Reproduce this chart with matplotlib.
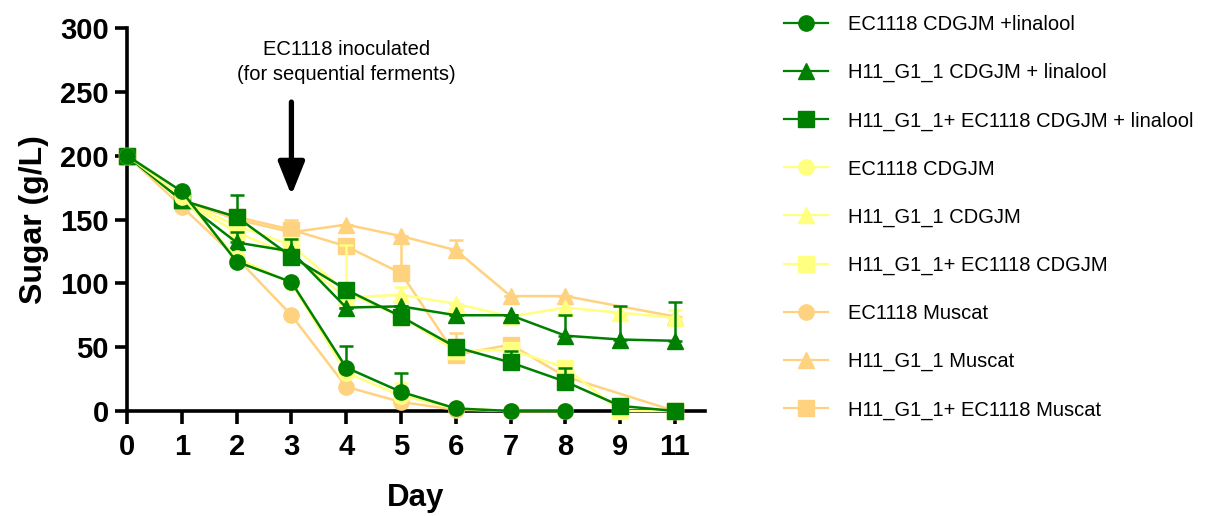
import numpy as np
import matplotlib
matplotlib.use("Agg")
import matplotlib.pyplot as plt
from matplotlib.lines import Line2D

plt.rcParams['font.family'] = ['Liberation Sans', 'DejaVu Sans']

# Days (day 10 not sampled, axis is categorical)
days = ['0', '1', '2', '3', '4', '5', '6', '7', '8', '9', '11']
nan = np.nan

# Sugar (g/L) per series, nan = no measurement
ec_cdgjm_lin = [200, 172, 117, 101, 34, 15, 2, 0, 0, nan, nan]
h11_cdgjm_lin = [200, 165, 132, 125, 81, 82, 75, 75, 59, 56, 55]
seq_cdgjm_lin = [200, 165, 152, 121, 95, 74, 50, 38, 23, 4, 0]
ec_cdgjm = [200, 168, 120, 100, 30, 12, 2, 0, 0, nan, nan]
h11_cdgjm = [200, 165, 140, 122, 89, 91, 84, 74, 81, 77, 73]
seq_cdgjm = [200, 165, 145, 130, 93, 74, 47, 48, 34, 0, 0]
ec_muscat = [200, 160, 120, 75, 19, 7, 1, 0, 0, nan, nan]
h11_muscat = [200, 165, 150, 140, 146, 137, 126, 90, 90, nan, 74]
seq_muscat = [200, 165, 152, 142, 129, 108, 44, 52, 27, nan, 0]

# upper error bars (SD)
err_ec_cdgjm_lin = [0, 0, 0, 0, 17, 15, 0, 0, 0, 0, 0]
err_h11_cdgjm_lin = [0, 0, 8, 10, 0, 0, 0, 0, 16, 26, 30]
err_seq_cdgjm_lin = [0, 0, 17, 0, 0, 0, 0, 9, 11, 0, 0]
err_ec_cdgjm = [0, 0, 0, 0, 0, 10, 0, 0, 0, 0, 0]
err_h11_cdgjm = [0, 0, 0, 0, 0, 6, 0, 0, 0, 0, 6]
err_seq_cdgjm = [0, 0, 0, 0, 37, 0, 0, 0, 0, 0, 0]
err_ec_muscat = [0] * 11
err_h11_muscat = [0, 0, 0, 0, 0, 0, 8, 0, 0, 0, 0]
err_seq_muscat = [0, 0, 0, 8, 6, 28, 17, 0, 0, 0, 0]

green = '#008000'
yellow = '#FFFF80'
orange = '#FFD27F'

series = [
    ("EC1118 CDGJM +linalool", ec_cdgjm_lin, err_ec_cdgjm_lin, green, 'o'),
    ("H11_G1_1 CDGJM + linalool", h11_cdgjm_lin, err_h11_cdgjm_lin, green, '^'),
    ("H11_G1_1+ EC1118 CDGJM + linalool", seq_cdgjm_lin, err_seq_cdgjm_lin, green, 's'),
    ("EC1118 CDGJM", ec_cdgjm, err_ec_cdgjm, yellow, 'o'),
    ("H11_G1_1 CDGJM", h11_cdgjm, err_h11_cdgjm, yellow, '^'),
    ("H11_G1_1+ EC1118 CDGJM", seq_cdgjm, err_seq_cdgjm, yellow, 's'),
    ("EC1118 Muscat", ec_muscat, err_ec_muscat, orange, 'o'),
    ("H11_G1_1 Muscat", h11_muscat, err_h11_muscat, orange, '^'),
    ("H11_G1_1+ EC1118 Muscat", seq_muscat, err_seq_muscat, orange, 's'),
]
msize = {'o': 11, '^': 11, 's': 11}

fig = plt.figure(figsize=(12.1, 5.16), dpi=100)
ax = fig.add_axes([0.105, 0.2035, 0.4777, 0.7422])

x = np.arange(len(days))
n = len(series)
handles = []
for i, (label, vals, err, col, mk) in enumerate(series):
    y = np.array(vals, dtype=float)
    e = np.array(err, dtype=float)
    m = ~np.isnan(y)
    z = 3 + (n - i) // 3  # green on top, muscat at the bottom
    ax.errorbar(x[m], y[m], yerr=[np.zeros(m.sum()), e[m]], fmt='none',
                ecolor=col, elinewidth=1.8, capsize=5, capthick=1.8,
                zorder=z, clip_on=False)
    ax.plot(x[m], y[m], color=col, marker=mk, markersize=msize[mk],
            linewidth=1.8, zorder=z, clip_on=False)
    handles.append(Line2D([], [], color=col, marker=mk, markersize=msize[mk],
                          linewidth=1.6))

ax.set_xlim(0, 10.55)
ax.set_ylim(0, 300)
ax.set_xticks(x)
ax.set_xticklabels(days)
ax.set_yticks(np.arange(0, 301, 50))

for s in ['top', 'right']:
    ax.spines[s].set_visible(False)
for s in ['left', 'bottom']:
    ax.spines[s].set_linewidth(2.6)
ax.tick_params(width=2.6, length=9, labelsize=21)
ax.tick_params(axis='x', pad=7)
ax.tick_params(axis='y', pad=4)
for lab in ax.get_xticklabels() + ax.get_yticklabels():
    lab.set_fontweight('bold')

ax.set_xlabel('Day', fontsize=22.5, fontweight='bold', labelpad=16)
ax.set_ylabel('Sugar (g/L)', fontsize=23, fontweight='bold', labelpad=8)

# inoculation arrow
ax.annotate('', xy=(3, 169), xytext=(3, 242),
            arrowprops=dict(arrowstyle='-|>,head_width=0.8,head_length=2.0',
                            color='black', lw=3.8, shrinkA=0, shrinkB=0))
ax.text(4.0, 273, 'EC1118 inoculated\n(for sequential ferments)',
        ha='center', va='center', fontsize=14.5, linespacing=1.4)

fig.legend(handles, [s[0] for s in series], loc='upper left',
           bbox_to_anchor=(0.633, 1.006), frameon=False, fontsize=14.5,
           handlelength=2.2, handletextpad=1.0, labelspacing=1.44)

fig.savefig('out.png', dpi=100)
